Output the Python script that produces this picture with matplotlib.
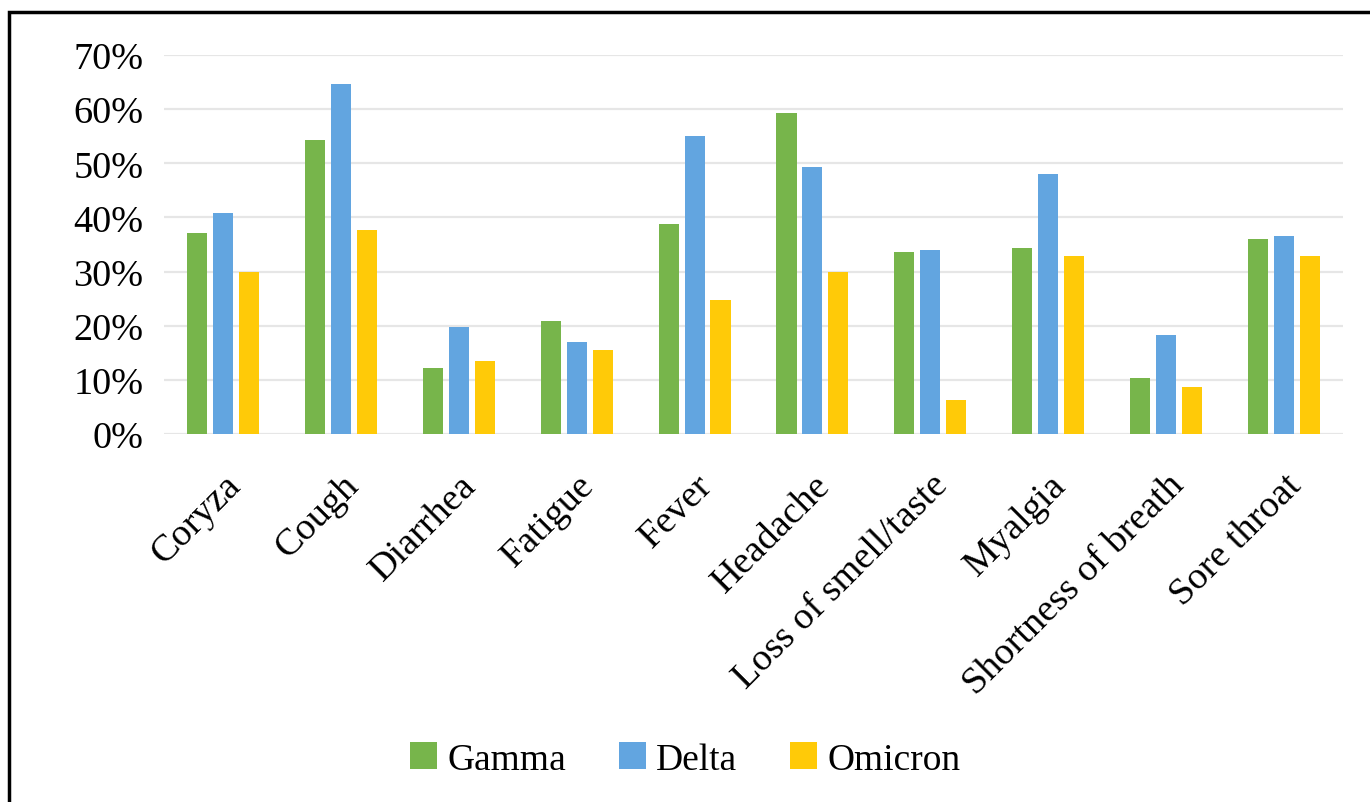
import matplotlib.pyplot as plt
import numpy as np
from matplotlib.patches import Rectangle

plt.rcParams['font.family'] = ['Liberation Serif', 'DejaVu Serif']

symptoms = ['Coryza', 'Cough', 'Diarrhea', 'Fatigue', 'Fever', 'Headache',
            'Loss of smell/taste', 'Myalgia', 'Shortness of breath', 'Sore throat']
gamma = [37.2, 54.3, 12.2, 20.8, 38.7, 59.3, 33.6, 34.4, 10.4, 36.1]
delta = [40.8, 64.6, 19.8, 16.9, 55.1, 49.4, 34.0, 48.0, 18.3, 36.5]
omicron = [30.0, 37.6, 13.4, 15.5, 24.8, 30.0, 6.2, 32.9, 8.7, 32.9]
yticks = [0, 10, 20, 30, 40, 50, 60, 70]

series = {'Gamma': (gamma, '#77B54B'),
          'Delta': (delta, '#62A5E0'),
          'Omicron': (omicron, '#FFCA08')}

fig = plt.figure(figsize=(13.7, 8.03), dpi=100)
ax = fig.add_axes([0.1197, 0.4583, 0.8606, 0.472])

x = np.arange(len(symptoms))
w = 0.17
step = 0.22
for i, (name, (vals, col)) in enumerate(series.items()):
    ax.bar(x + (i - 1) * step, vals, width=w, color=col, label=name, zorder=3)

ax.set_ylim(0, 70)
ax.set_xlim(-0.5, len(symptoms) - 0.5)
ax.set_yticks(yticks)
ax.set_yticklabels([f'{t}%' for t in yticks], fontsize=27.5)
ax.set_xticks(x)
ax.set_xticklabels(symptoms, fontsize=27.5, rotation=45, ha='right',
                   rotation_mode='anchor')
ax.tick_params(length=0)
ax.tick_params(axis='y', pad=15)
ax.tick_params(axis='x', pad=24)
ax.grid(axis='y', color='#E6E6E6', lw=1.6, zorder=0)
for s in ax.spines.values():
    s.set_visible(False)

fig.legend(loc='center', bbox_to_anchor=(0.5, 0.053), ncol=3, frameon=False,
           fontsize=27, handlelength=0.72, handleheight=0.72, handletextpad=0.28,
           columnspacing=1.4)

# frame around the figure (right and bottom edges are cut off)
fig.patches.append(Rectangle((0.0065, -0.1), 1.2, 1.0835, transform=fig.transFigure,
                             fill=False, edgecolor='black', lw=2.5))

fig.savefig('out.png', dpi=100)
